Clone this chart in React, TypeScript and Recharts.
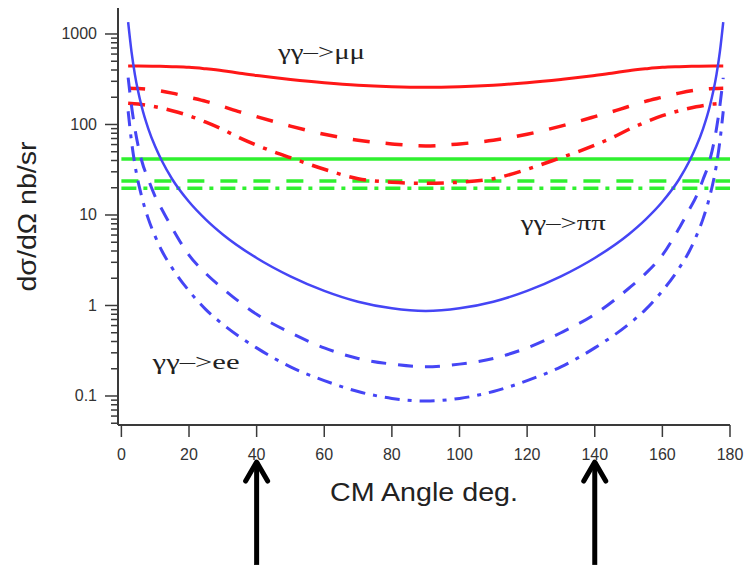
import React from 'react';
import { LineChart, Line, XAxis, YAxis, ReferenceLine, ReferenceDot } from 'recharts';

// ---- data ----
const xTicks = [0, 20, 40, 60, 80, 100, 120, 140, 160, 180];
const yMajorTicks = [0.1, 1, 10, 100, 1000];
const yMinorTicks = [
  0.05, 0.06, 0.07, 0.08, 0.09,
  0.2, 0.3, 0.4, 0.5, 0.6, 0.7, 0.8, 0.9,
  2, 3, 4, 5, 6, 7, 8, 9,
  20, 30, 40, 50, 60, 70, 80, 90,
  200, 300, 400, 500, 600, 700, 800, 900,
];

// γγ->ee (blue)
const eeAngles = [2, 3, 4, 6, 8, 10, 12, 15, 20, 25, 30, 40, 50, 60, 70, 80, 90, 100, 110, 120, 130, 140, 150, 155, 160, 165, 168, 170, 172, 174, 176, 177, 178];
const eeSolid = [1350, 634, 356, 158, 89, 57, 39.5, 25, 14, 8.9, 6.1, 3.35, 2.1, 1.45, 1.1, 0.93, 0.87, 0.93, 1.1, 1.45, 2.1, 3.35, 6.1, 8.9, 14, 25, 39.5, 57, 89, 158, 356, 634, 1350];
const eeDashed = [330, 160, 90, 40, 24.5, 16, 11.5, 7.2, 3.6, 2.25, 1.54, 0.8, 0.5, 0.34, 0.26, 0.225, 0.21, 0.225, 0.26, 0.34, 0.5, 0.8, 1.54, 2.25, 3.6, 7.2, 11.5, 16, 24.5, 40, 90, 160, 330];
const eeDashDot = [140, 65, 36, 16, 9, 5.8, 4.0, 2.6, 1.45, 0.9, 0.62, 0.34, 0.21, 0.148, 0.112, 0.094, 0.088, 0.094, 0.112, 0.148, 0.21, 0.34, 0.62, 0.9, 1.45, 2.6, 4.0, 5.8, 9, 16, 36, 65, 140];

// γγ->μμ (red)
const mmAngles = [2, 5, 10, 15, 20, 25, 30, 35, 40, 45, 50, 60, 70, 80, 90, 100, 110, 120, 130, 135, 140, 145, 150, 155, 160, 165, 170, 175, 178];
const mmSolid = [443, 443, 440, 435, 428, 412, 393, 368, 348, 330, 315, 290, 272, 262, 258, 262, 272, 290, 315, 330, 348, 368, 393, 412, 428, 435, 440, 443, 443];
const mmDashed = [252, 250, 240, 222, 200, 180, 158, 138, 122, 108, 96, 78, 67, 61, 58, 61, 67, 78, 96, 108, 122, 138, 158, 180, 200, 222, 240, 250, 252];
const mmDashDot = [172, 168, 157, 142, 125, 106, 88, 71, 59, 50, 43, 32, 25.2, 23, 22.4, 23, 25.2, 32, 43, 50, 59, 71, 88, 106, 125, 142, 157, 168, 172];

// γγ->ππ (green, flat)
const ppAngles = [0, 180];
const ppSolid = [41.6, 41.6];
const ppDashed = [23.8, 23.8];
const ppDashDot = [19.7, 19.7];

// annotations (data coordinates)
const arrowAngles = [40, 140];
const arrowBottom = 0.00136;
const arrowTip = 0.0196;

const toPts = (angles: number[], vals: number[]) => angles.map((a, i) => ({ angle: a, v: vals[i] }));

const RED = '#ff1717';
const GREEN = '#2ff02f';
const BLUE = '#4545f5';
const AXIS = '#3a3a3a';
const SANS = '"Liberation Sans", Arial, Helvetica, sans-serif';
const SERIF = '"Liberation Serif", "Times New Roman", serif';

const yTicks = [...yMinorTicks, ...yMajorTicks].sort((a, b) => a - b);

const YTick = (props: any) => {
  const { x, y, payload } = props;
  const v = payload.value;
  const major = yMajorTicks.some((m) => Math.abs(m - v) / m < 1e-9);
  return (
    <g>
      <line x1={x - (major ? 13 : 7)} x2={x} y1={y} y2={y} stroke={AXIS} strokeWidth={1.5} />
      {major && (
        <text x={x - 21} y={y} textAnchor="end" dominantBaseline="central" fontFamily={SANS} fontSize={16} fill="#333">
          {String(v)}
        </text>
      )}
    </g>
  );
};

const ArrowShape = (p: any) => {
  const { x1, y1, x2, y2 } = p;
  const x = x1;
  const tip = Math.min(y1, y2);
  const bot = Math.max(y1, y2);
  return (
    <g>
      <line x1={x} x2={x} y1={bot} y2={tip + 2} stroke="#000" strokeWidth={5} />
      <polyline points={`${x - 11},${tip + 21} ${x},${tip + 2} ${x + 11},${tip + 21}`} fill="none" stroke="#000" strokeWidth={5} strokeLinecap="round" strokeLinejoin="round" />
    </g>
  );
};

const annot = (label: string, len: number) => (p: any) => (
  <text x={p.cx} y={p.cy} textAnchor="middle" dominantBaseline="central" fontFamily={SERIF} fontSize={21} fill="#222" textLength={len} lengthAdjust="spacingAndGlyphs">
    {label}
  </text>
);

export default function App() {
  return (
    <div style={{ position: 'absolute', left: 0, top: 0, width: 747, height: 568, background: '#fff' }}>
      <LineChart width={747} height={568} margin={{ top: 8, right: 17, left: 0, bottom: 103 }}>
        <XAxis
          type="number"
          dataKey="angle"
          domain={[-1, 180]}
          ticks={xTicks}
          interval={0}
          tickSize={12}
          tickMargin={12}
          height={40}
          axisLine={{ stroke: AXIS, strokeWidth: 2 }}
          tickLine={{ stroke: AXIS, strokeWidth: 1.5 }}
          tick={{ fontFamily: SANS, fontSize: 16, fill: '#333' }}
          label={{
            content: (lp: any) => {
              const vb = lp.viewBox;
              return (
                <text x={vb.x + vb.width / 2} y={vb.y + 67} textAnchor="middle" dominantBaseline="central" fontFamily={SANS} fontSize={25} fill="#222" textLength={188} lengthAdjust="spacingAndGlyphs">
                  CM Angle deg.
                </text>
              );
            },
          }}
        />
        <YAxis
          type="number"
          scale="log"
          domain={[0.0478, 1937]}
          ticks={yTicks}
          interval={0}
          width={118}
          tickSize={0}
          tickMargin={0}
          tickLine={false}
          axisLine={{ stroke: AXIS, strokeWidth: 2 }}
          tick={<YTick />}
          label={{
            content: (lp: any) => {
              const vb = lp.viewBox;
              const cx = vb.x + 27;
              const cy = vb.y + vb.height / 2;
              return (
                <text x={cx} y={cy} transform={`rotate(-90 ${cx} ${cy})`} textAnchor="middle" dominantBaseline="central" fontFamily={SANS} fontSize={25} fill="#222" textLength={150} lengthAdjust="spacingAndGlyphs">
                  dσ/dΩ nb/sr
                </text>
              );
            },
          }}
        />

        <Line data={toPts(ppAngles, ppSolid)} dataKey="v" type="linear" dot={false} stroke={GREEN} strokeWidth={3.5} isAnimationActive={false} />
        <Line data={toPts(ppAngles, ppDashed)} dataKey="v" type="linear" dot={false} stroke={GREEN} strokeWidth={3.5} strokeDasharray="17 16" isAnimationActive={false} />
        <Line data={toPts(ppAngles, ppDashDot)} dataKey="v" type="linear" dot={false} stroke={GREEN} strokeWidth={3.5} strokeDasharray="15 7 4 7" isAnimationActive={false} />

        <Line data={toPts(mmAngles, mmSolid)} dataKey="v" type="monotone" dot={false} stroke={RED} strokeWidth={3} isAnimationActive={false} />
        <Line data={toPts(mmAngles, mmDashed)} dataKey="v" type="monotone" dot={false} stroke={RED} strokeWidth={3.5} strokeDasharray="17 16" isAnimationActive={false} />
        <Line data={toPts(mmAngles, mmDashDot)} dataKey="v" type="monotone" dot={false} stroke={RED} strokeWidth={3.5} strokeDasharray="17 9 4 9" isAnimationActive={false} />

        <Line data={toPts(eeAngles, eeSolid)} dataKey="v" type="monotone" dot={false} stroke={BLUE} strokeWidth={2.5} isAnimationActive={false} />
        <Line data={toPts(eeAngles, eeDashed)} dataKey="v" type="monotone" dot={false} stroke={BLUE} strokeWidth={3} strokeDasharray="15 12" isAnimationActive={false} />
        <Line data={toPts(eeAngles, eeDashDot)} dataKey="v" type="monotone" dot={false} stroke={BLUE} strokeWidth={3} strokeDasharray="15 8 4 8" isAnimationActive={false} />

        <ReferenceDot x={59.2} y={632} r={0} ifOverflow="visible" shape={annot('γγ–>μμ', 87)} />
        <ReferenceDot x={130.7} y={8.16} r={0} ifOverflow="visible" shape={annot('γγ–>ππ', 85)} />
        <ReferenceDot x={22.1} y={0.238} r={0} ifOverflow="visible" shape={annot('γγ–>ee', 87)} />

        {arrowAngles.map((a) => (
          <ReferenceLine
            key={a}
            ifOverflow="visible"
            segment={[{ x: a, y: arrowBottom }, { x: a, y: arrowTip }]}
            shape={ArrowShape}
          />
        ))}
      </LineChart>
    </div>
  );
}
